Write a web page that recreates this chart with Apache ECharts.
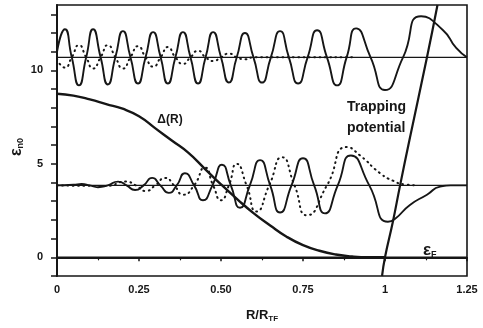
<!DOCTYPE html>
<html>
<head>
<meta charset="utf-8">
<script src="https://cdn.jsdelivr.net/npm/echarts@6/dist/echarts.min.js"></script>
<style>
  html, body { margin: 0; padding: 0; background: #fff; }
  #chart { width: 483px; height: 328px; }
</style>
</head>
<body>
<div id="chart"></div>
<script>
// values, [R/R_TF, eps]
var upperLevel = [[0, 10.7], [1.25, 10.7]];
var lowerLevel = [[0, 3.85], [1.25, 3.85]];
var fermiLevel = [[0, 0], [1.25, 0]];

var upperSolid = [
    [0, 11.0], [0.024, 12.2], [0.045, 10.7], [0.067, 9.2], [0.089, 10.7], [0.110, 12.2],
    [0.133, 10.7], [0.155, 9.25], [0.178, 10.7], [0.201, 12.1], [0.224, 10.7], [0.247, 9.3],
    [0.270, 10.7], [0.293, 12.05], [0.316, 10.7], [0.338, 9.3], [0.361, 10.7], [0.384, 12.05],
    [0.407, 10.7], [0.430, 9.3], [0.453, 10.7], [0.476, 12.05], [0.500, 10.7], [0.524, 9.35],
    [0.548, 10.7], [0.573, 12.0], [0.599, 10.7], [0.625, 9.35], [0.652, 10.7], [0.680, 12.1],
    [0.707, 10.7], [0.735, 9.3], [0.764, 10.7], [0.793, 12.15], [0.823, 10.7], [0.854, 9.2],
    [0.883, 10.7], [0.912, 12.25], [0.956, 10.7], [1.0, 8.95], [1.055, 10.7], [1.110, 12.9],
    [1.177, 12.15], [1.217, 11.2], [1.25, 10.7]
];

var upperDotted = [
    [0, 10.6], [0.024, 10.15], [0.045, 10.7], [0.067, 11.35], [0.089, 10.7], [0.110, 10.1],
    [0.133, 10.7], [0.155, 11.35], [0.178, 10.7], [0.201, 10.1], [0.224, 10.7], [0.247, 11.3],
    [0.270, 10.7], [0.293, 10.2], [0.316, 10.7], [0.338, 11.25], [0.361, 10.7], [0.384, 10.35],
    [0.407, 10.7], [0.430, 11.05], [0.453, 10.7], [0.476, 10.5], [0.500, 10.7], [0.524, 10.9],
    [0.548, 10.7], [0.573, 10.6], [0.6, 10.7], [0.9, 10.7]
];

var lowerSolid = [
    [0, 3.85], [0.05, 3.88], [0.075, 3.92], [0.1, 3.85], [0.125, 3.75], [0.155, 3.85],
    [0.186, 4.05], [0.212, 3.85], [0.238, 3.6], [0.264, 3.85], [0.290, 4.25], [0.315, 3.85],
    [0.341, 3.45], [0.365, 3.85], [0.390, 4.5], [0.418, 3.85], [0.445, 3.05], [0.474, 3.85],
    [0.503, 4.95], [0.530, 3.85], [0.558, 2.65], [0.588, 3.85], [0.619, 5.2], [0.650, 3.85],
    [0.680, 2.4], [0.715, 3.85], [0.750, 5.3], [0.784, 3.85], [0.817, 2.35], [0.856, 3.85],
    [0.896, 5.45], [0.952, 3.85], [1.009, 1.9], [1.03, 2.05], [1.076, 2.8], [1.128, 3.35],
    [1.168, 3.78], [1.2, 3.85], [1.25, 3.85]
];

var lowerDotted = [
    [0, 3.85], [0.15, 3.82], [0.21, 4.05], [0.24, 3.85], [0.27, 3.55], [0.30, 3.85],
    [0.33, 4.25], [0.357, 3.85], [0.385, 3.35], [0.418, 3.85], [0.451, 4.8], [0.476, 3.85],
    [0.500, 3.05], [0.524, 3.85], [0.548, 5.0], [0.578, 3.85], [0.608, 2.45], [0.647, 3.85],
    [0.686, 5.35], [0.724, 3.85], [0.762, 2.25], [0.823, 3.85], [0.884, 5.9], [0.924, 5.45],
    [0.985, 4.5], [1.024, 4.1], [1.06, 3.9], [1.1, 3.85]
];

var gap = [
    [0, 8.75], [0.05, 8.65], [0.1, 8.45], [0.15, 8.2], [0.2, 7.95], [0.25, 7.55],
    [0.3, 6.9], [0.35, 6.25], [0.4, 5.6], [0.45, 4.75], [0.5, 3.9], [0.55, 3.1],
    [0.6, 2.35], [0.65, 1.7], [0.7, 1.1], [0.75, 0.65], [0.8, 0.35], [0.85, 0.15],
    [0.9, 0.04], [0.95, 0], [1.0, 0]
];

var trap = [[0.991, -1], [1.0, 0], [1.024, 1.9], [1.046, 3.85], [1.076, 6.4], [1.128, 10.7], [1.16, 13.5]];

var xTickLabels = { 0: '0', 0.25: '0.25', 0.5: '0.50', 0.75: '0.75', 1: '1', 1.25: '1.25' };

var ink = '#161616';
var font = '"Liberation Sans", Arial, sans-serif';

var myChart = echarts.init(document.getElementById('chart'));

function solid (data, width, smooth)
{
    return {
        type: 'line', data: data, showSymbol: false, smooth: smooth, silent: true,
        lineStyle: { color: ink, width: width }
    };
}
function dotted (data)
{
    return {
        type: 'line', data: data, showSymbol: false, smooth: 0.6, silent: true,
        lineStyle: { color: ink, width: 2, type: [0.8, 4.5], cap: 'round' }
    };
}

var option = {
    animation: false,
    grid: {
        left: 57, right: 16, top: 5, bottom: 48,
        show: true, borderColor: ink, borderWidth: 1.6
    },
    xAxis: {
        type: 'value', min: 0, max: 1.25, interval: 0.25,
        name: '{a|R/R}{s|TF}', nameLocation: 'middle', nameGap: 31,
        nameTextStyle: {
            rich: {
                a: { fontFamily: font, fontWeight: 'bold', fontSize: 13, color: ink },
                s: { fontFamily: font, fontWeight: 'bold', fontSize: 8, color: ink, padding: [8, 0, 0, 0] }
            }
        },
        axisLine: { lineStyle: { color: ink, width: 2 } },
        axisTick: { show: true, inside: false, length: 4, lineStyle: { color: ink, width: 1.5 } },
        minorTick: { show: true, splitNumber: 2, length: 3, lineStyle: { color: ink, width: 1.2 } },
        splitLine: { show: false },
        axisLabel: {
            margin: 8, color: ink, fontFamily: font, fontWeight: 'bold', fontSize: 11,
            formatter: function (v) { return xTickLabels[v] !== undefined ? xTickLabels[v] : ''; }
        }
    },
    yAxis: {
        type: 'value', min: -1, max: 13.5, interval: 1,
        axisLine: { lineStyle: { color: ink, width: 2 } },
        axisTick: { show: true, inside: false, length: 6, lineStyle: { color: ink, width: 1.5 } },
        splitLine: { show: false },
        axisLabel: {
            margin: 14, color: ink, fontFamily: font, fontWeight: 'bold', fontSize: 11,
            showMaxLabel: false,
            formatter: function (v) { return v % 5 === 0 ? String(v) : ''; }
        }
    },
    graphic: [
        {
            type: 'text', x: 17, y: 147, rotation: Math.PI / 2, silent: true,
            style: {
                text: '{e|ε}{s|n0}', align: 'center', verticalAlign: 'middle',
                rich: {
                    e: { fontFamily: font, fontWeight: 'bold', fontSize: 16, fill: ink },
                    s: { fontFamily: font, fontWeight: 'bold', fontSize: 9, fill: ink, padding: [7, 0, 0, 0] }
                }
            }
        },
        {
            type: 'text', x: 170, y: 120, silent: true,
            style: { text: 'Δ(R)', align: 'center', verticalAlign: 'middle', fontFamily: font, fontWeight: 'bold', fontSize: 12, fill: ink }
        },
        {
            type: 'text', x: 347, y: 107, silent: true,
            style: { text: 'Trapping', align: 'left', verticalAlign: 'middle', fontFamily: font, fontWeight: 'bold', fontSize: 14, fill: ink }
        },
        {
            type: 'text', x: 347, y: 128, silent: true,
            style: { text: 'potential', align: 'left', verticalAlign: 'middle', fontFamily: font, fontWeight: 'bold', fontSize: 14, fill: ink }
        },
        {
            type: 'text', x: 423, y: 250, silent: true,
            style: {
                text: '{e|ε}{s|F}', align: 'left', verticalAlign: 'middle',
                rich: {
                    e: { fontFamily: font, fontWeight: 'bold', fontSize: 17, fill: ink },
                    s: { fontFamily: font, fontWeight: 'bold', fontSize: 9, fill: ink, padding: [9, 0, 0, 0] }
                }
            }
        }
    ],
    series: [
        solid(upperLevel, 1.3, false),
        solid(lowerLevel, 1.3, false),
        solid(fermiLevel, 1.5, false),
        dotted(upperDotted),
        dotted(lowerDotted),
        solid(upperSolid, 1.9, 0.6),
        solid(lowerSolid, 1.9, 0.6),
        solid(gap, 2.4, true),
        solid(trap, 2.2, true)
    ]
};
myChart.setOption(option);
</script>
</body>
</html>
